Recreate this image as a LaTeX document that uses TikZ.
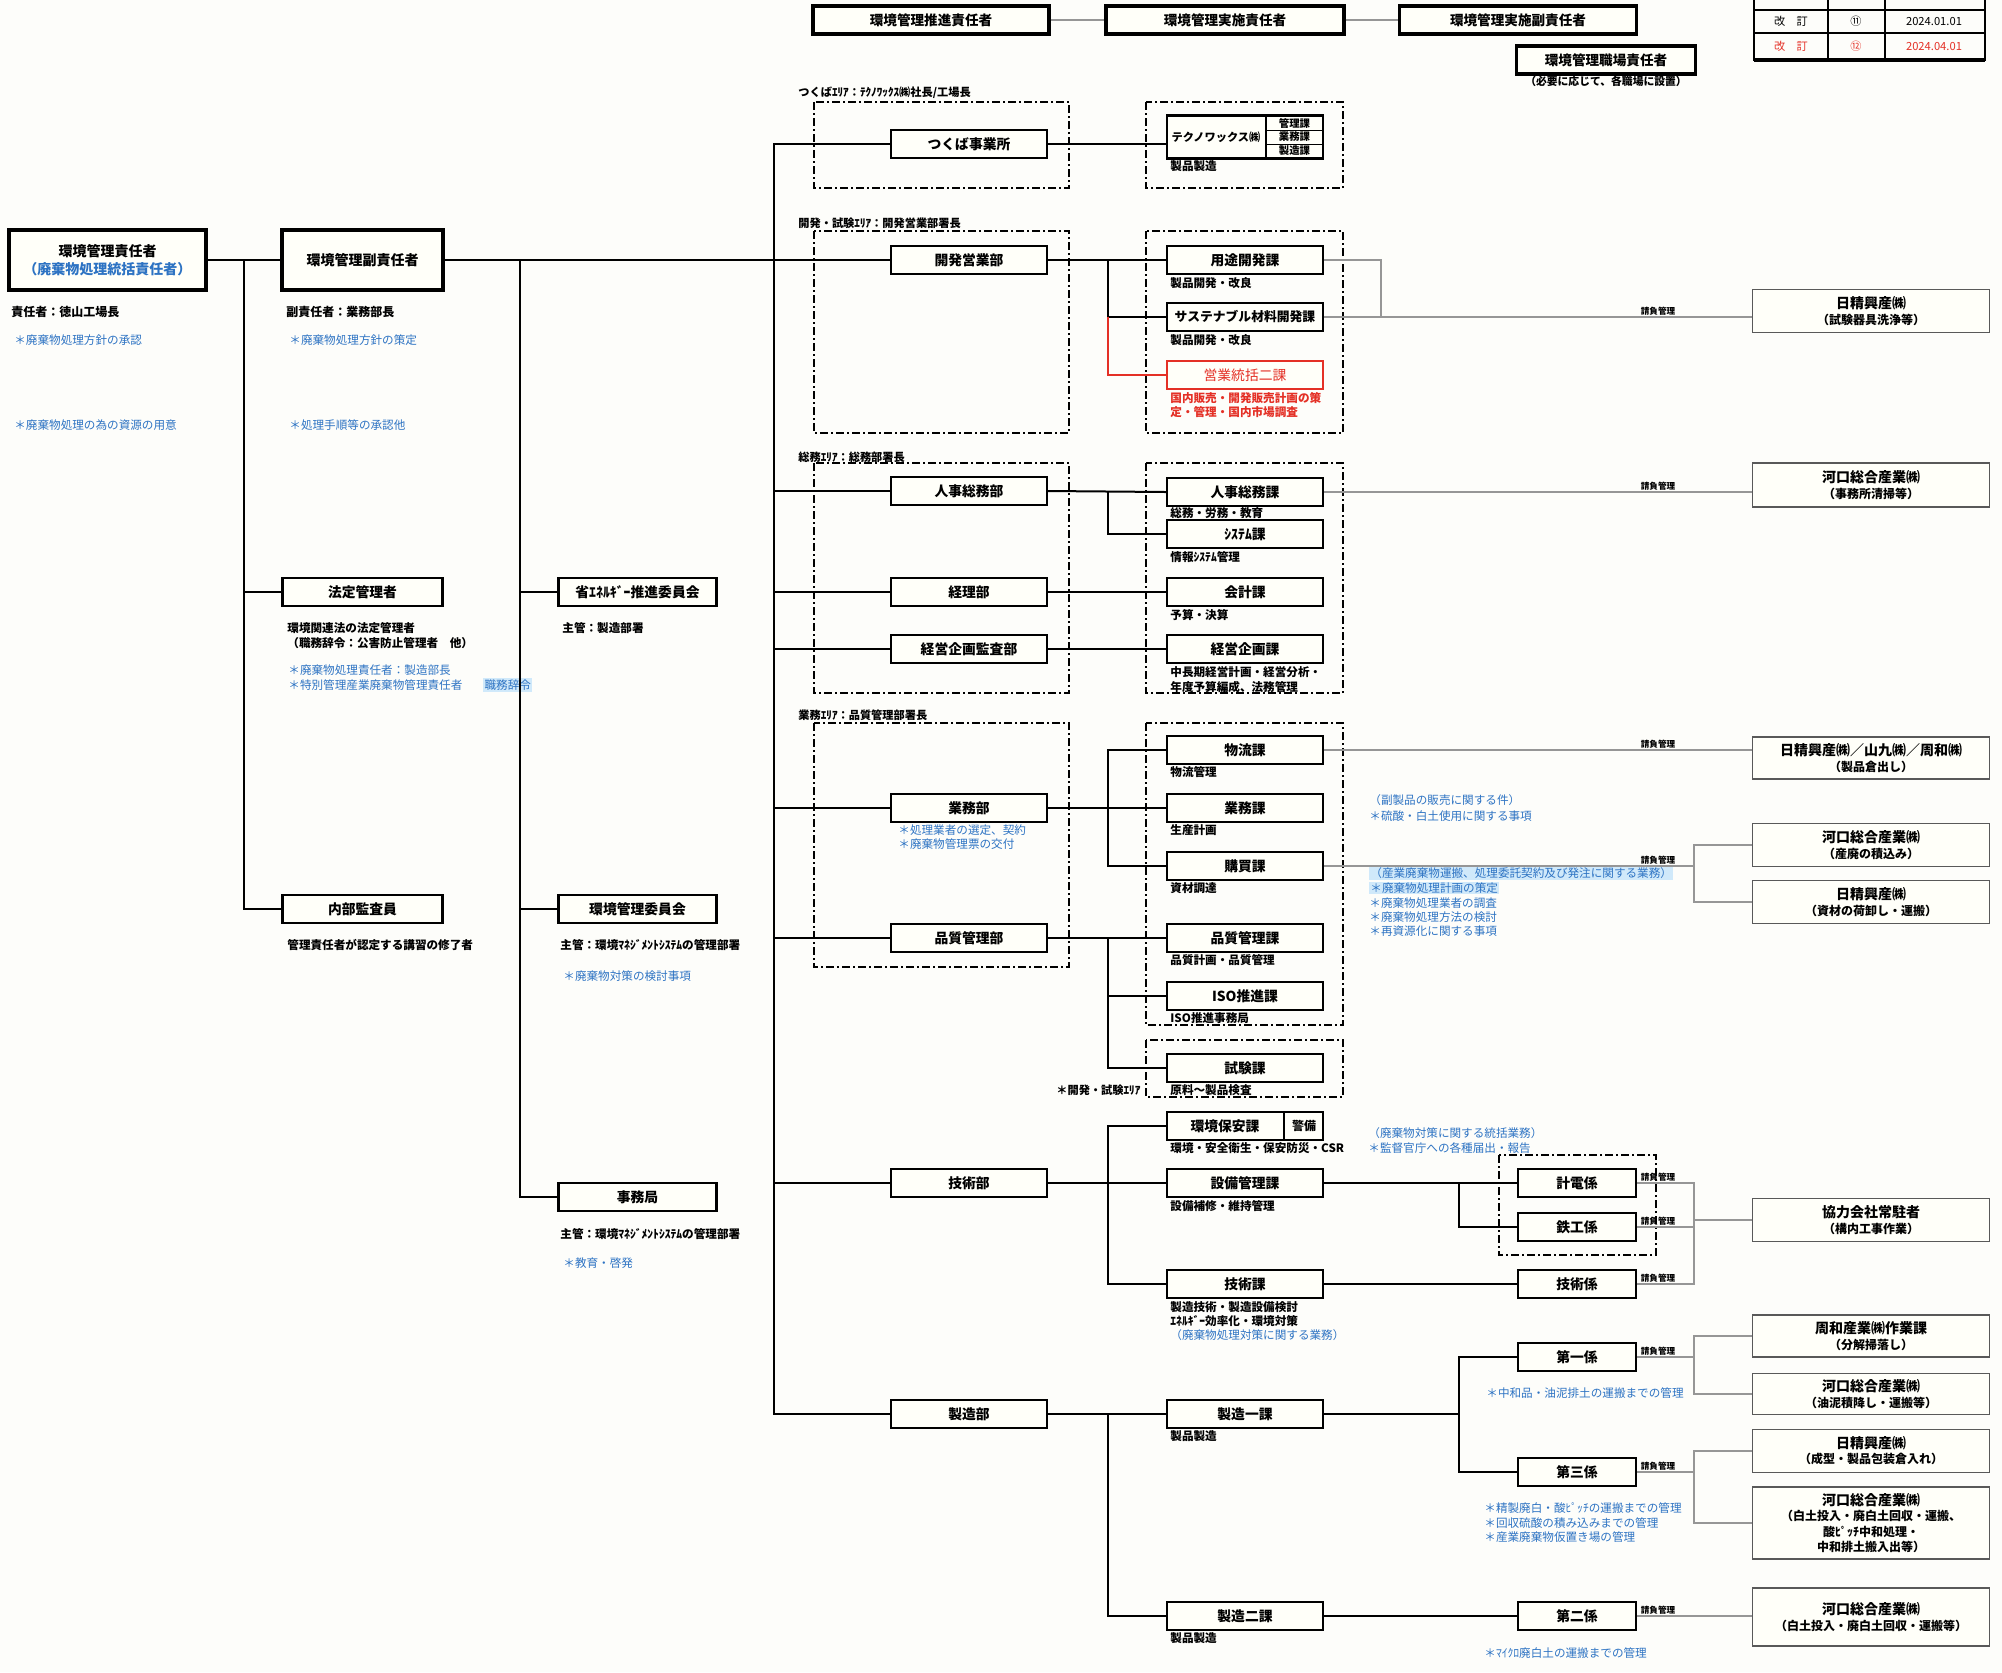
\documentclass[tikz,border=0pt]{standalone}
\usepackage{fontspec}
\setmainfont{Noto Sans CJK JP}
\definecolor{paper}{RGB}{253,253,250}
\definecolor{boxfill}{RGB}{255,255,249}
\definecolor{inkblue}{RGB}{45,115,195}
\definecolor{inkred}{RGB}{228,48,38}
\definecolor{hilite}{RGB}{208,233,250}
\definecolor{greyline}{RGB}{150,150,150}
\newcommand{\firm}[1]{{\fontsize{7}{8.5}\selectfont #1}}
\tikzset{
  box/.style={draw, line width=1.1pt, fill=boxfill, inner sep=1pt, minimum width=78pt,
    minimum height=14pt, font=\bfseries\fontsize{6.9}{8}\selectfont},
  kakbox/.style={box, minimum width=59pt},
  headbox/.style={box, line width=1.7pt, minimum height=14pt, font=\bfseries\fontsize{6.8}{8}\selectfont},
  bigbox/.style={box, line width=2.3pt, minimum height=30pt, align=center, font=\bfseries\fontsize{7}{9}\selectfont},
  extbox/.style={draw=black!65, line width=.7pt, fill=boxfill, minimum width=118.5pt, inner sep=1pt,
    align=center, font=\bfseries\fontsize{6}{7.6}\selectfont},
  boxtxt/.style={inner sep=0pt, font=\bfseries\fontsize{6.9}{8}\selectfont},
  cell/.style={inner sep=0pt, font=\bfseries\fontsize{5.2}{6}\selectfont},
  sub/.style={anchor=west, inner sep=0pt, font=\bfseries\fontsize{5.8}{6.6}\selectfont},
  note/.style={anchor=west, inner sep=0pt, text=inkblue, font=\fontsize{5.8}{6.6}\selectfont},
  area/.style={anchor=west, inner sep=0pt, font=\bfseries\fontsize{5.6}{6.4}\selectfont},
  uke/.style={anchor=south, inner sep=.6pt, font=\bfseries\fontsize{4.3}{5}\selectfont},
  rev/.style={inner sep=0pt, font=\fontsize{5.6}{6.4}\selectfont},
  link/.style={line width=1pt},
  glink/.style={line width=.6pt, draw=greyline},
  zone/.style={line width=.9pt, dash pattern=on 4pt off 1.5pt on 1pt off 1.5pt}
}
\begin{document}
\begin{tikzpicture}[x=.5pt,y=-.5pt]
\path[use as bounding box,fill=paper] (0,0) rectangle (2002,1672);

% header row
\node[headbox, minimum width=118pt] (hPromo) at (931,20) {環境管理推進責任者};
\node[headbox, minimum width=119pt] (hExec) at (1225,20) {環境管理実施責任者};
\node[headbox, minimum width=118.5pt] (hVice) at (1518,20) {環境管理実施副責任者};
\node[headbox, minimum width=89.5pt] (hSite) at (1606,60) {環境管理職場責任者};
\node[sub, anchor=center, font=\bfseries\fontsize{5.4}{6}\selectfont] (hSiteN) at (1606,81) {（必要に応じて、各職場に設置）};
\draw[glink] (hPromo) -- (hExec);
\draw[glink] (hExec) -- (hVice);

% revision table
\draw[line width=.7pt] (1754,-2) rectangle (1985,60);
\draw[line width=.7pt] (1754,10) -- (1985,10) (1754,33) -- (1985,33) (1828,-2) -- (1828,60) (1885,-2) -- (1885,60);
\draw[line width=1.6pt] (1754,60) -- (1985,60);
\node[rev] (revA1) at (1791,21.5) {改\quad 訂};
\node[rev] (revA2) at (1856,21.5) {⑪};
\node[rev] (revA3) at (1934,21.5) {2024.01.01};
\node[rev, text=inkred] (revB1) at (1791,46.5) {改\quad 訂};
\node[rev, text=inkred] (revB2) at (1856,46.5) {⑫};
\node[rev, text=inkred] (revB3) at (1934,46.5) {2024.04.01};

% left column
\node[bigbox, minimum width=98.5pt] (top1) at (107.5,260) {環境管理責任者\\\textcolor{inkblue}{（廃棄物処理統括責任者）}};
\node[bigbox, minimum width=80.5pt] (top2) at (362.5,260) {環境管理副責任者};
\node[sub, font=\bfseries\fontsize{6}{7}\selectfont] (top1a) at (11,312) {責任者：徳山工場長};
\node[note] (top1b) at (14,340) {＊廃棄物処理方針の承認};
\node[note] (top1c) at (14,425) {＊廃棄物処理の為の資源の用意};
\node[sub, font=\bfseries\fontsize{6}{7}\selectfont] (top2a) at (286,312) {副責任者：業務部長};
\node[note] (top2b) at (289,340) {＊廃棄物処理方針の策定};
\node[note] (top2c) at (289,425) {＊処理手順等の承認他};

\node[box, minimum width=80pt] (legal) at (362.5,592) {法定管理者};
\node[sub] (legalA) at (287,628) {環境関連法の法定管理者};
\node[sub] (legalB) at (287,643) {（職務辞令：公害防止管理者　他）};
\node[note] (legalC) at (288,670) {＊廃棄物処理責任者：製造部長};
\node[note] (legalD) at (288,685) {＊特別管理産業廃棄物管理責任者};
\node[note, fill=hilite, inner sep=.6pt] (legalE) at (483,685) {職務辞令};
\node[box, minimum width=80pt] (audit) at (362.5,909) {内部監査員};
\node[sub] (auditA) at (287,945) {管理責任者が認定する講習の修了者};

\node[box, minimum width=79pt] (energy) at (637.5,592) {省ｴﾈﾙｷﾞｰ推進委員会};
\node[sub] (energyA) at (562,628) {主管：製造部署};
\node[box, minimum width=79pt] (envc) at (637.5,909) {環境管理委員会};
\node[sub] (envcA) at (560,945) {主管：環境ﾏﾈｼﾞﾒﾝﾄｼｽﾃﾑの管理部署};
\node[note] (envcB) at (563,976) {＊廃棄物対策の検討事項};
\node[box, minimum width=79pt] (office) at (637.5,1197) {事務局};
\node[sub] (officeA) at (560,1234) {主管：環境ﾏﾈｼﾞﾒﾝﾄｼｽﾃﾑの管理部署};
\node[note] (officeB) at (563,1263) {＊教育・啓発};

% areas
\draw[zone] (814,102) rectangle (1069,188);
\draw[zone] (1146,102) rectangle (1343,188);
\draw[zone] (814,231) rectangle (1069,433);
\draw[zone] (1146,231) rectangle (1343,433);
\draw[zone] (814,463) rectangle (1069,693);
\draw[zone] (1146,463) rectangle (1343,693);
\draw[zone] (814,723) rectangle (1069,967);
\draw[zone] (1146,723) rectangle (1343,1025);
\draw[zone] (1146,1040) rectangle (1343,1097);
\draw[zone] (1499,1155) rectangle (1656,1255);
\node[area] (areaTsukuba) at (798,93) {つくばｴﾘｱ：ﾃｸﾉﾜｯｸｽ㈱社長/工場長};
\node[area] (areaDev) at (798,223) {開発・試験ｴﾘｱ：開発営業部署長};
\node[area] (areaAdmin) at (798,457) {総務ｴﾘｱ：総務部署長};
\node[area] (areaOps) at (798,715) {業務ｴﾘｱ：品質管理部署長};
\node[area] (areaTest) at (1056,1090) {＊開発・試験ｴﾘｱ};

% departments
\node[box] (tsukuba) at (969,144) {つくば事業所};
\node[box] (kaihatsu) at (969,260) {開発営業部};
\node[box] (jinji) at (969,491) {人事総務部};
\node[box] (keiri) at (969,592) {経理部};
\node[box] (keiei) at (969,649) {経営企画監査部};
\node[box] (gyomu) at (969,808) {業務部};
\node[note] (gyomuA) at (898,830) {＊処理業者の選定、契約};
\node[note] (gyomuB) at (898,844) {＊廃棄物管理票の交付};
\node[box] (hinshitsu) at (969,938) {品質管理部};
\node[box] (gijutsu) at (969,1183) {技術部};
\node[box] (seizo) at (969,1414) {製造部};

% sections
\node[box, minimum height=21.5pt] (tecno) at (1245,137) {};
\draw[line width=1.1pt] (1266,116) -- (1266,158);
\draw[line width=.5pt] (1266,130) -- (1323,130) (1266,144) -- (1323,144);
\node[boxtxt, font=\bfseries\fontsize{5.6}{6.4}\selectfont] (tecnoN) at (1216,137) {テクノワックス㈱};
\node[cell] (tecnoA) at (1294.5,123) {管理課};
\node[cell] (tecnoB) at (1294.5,137) {業務課};
\node[cell] (tecnoC) at (1294.5,151) {製造課};
\node[sub] (tecnoS) at (1170,166) {製品製造};
\node[box] (yoto) at (1245,260) {用途開発課};
\node[sub] (yotoS) at (1170,283) {製品開発・改良};
\node[box, font=\bfseries\fontsize{6.4}{8}\selectfont] (sust) at (1245,317) {サステナブル材料開発課};
\node[sub] (sustS) at (1170,340) {製品開発・改良};
\node[box, draw=inkred, text=inkred, font=\fontsize{6.9}{8}\selectfont] (eigyo) at (1245,375) {営業統括二課};
\node[sub, text=inkred] (eigyoS) at (1170,398) {国内販売・開発販売計画の策};
\node[sub, text=inkred] (eigyoT) at (1170,412) {定・管理・国内市場調査};
\node[box] (jinjiK) at (1245,492) {人事総務課};
\node[sub] (jinjiS) at (1170,513) {総務・労務・教育};
\node[box] (sys) at (1245,534) {ｼｽﾃﾑ課};
\node[sub] (sysS) at (1170,557) {情報ｼｽﾃﾑ管理};
\node[box] (kaikei) at (1245,592) {会計課};
\node[sub] (kaikeiS) at (1170,615) {予算・決算};
\node[box] (keieiK) at (1245,649) {経営企画課};
\node[sub] (keieiS) at (1170,672) {中長期経営計画・経営分析・};
\node[sub] (keieiT) at (1170,687) {年度予算編成、法務管理};
\node[box] (butsuryu) at (1245,750) {物流課};
\node[sub] (butsuryuS) at (1170,772) {物流管理};
\node[box] (gyomuK) at (1245,808) {業務課};
\node[sub] (gyomuS) at (1170,830) {生産計画};
\node[box] (kobai) at (1245,866) {購買課};
\node[sub] (kobaiS) at (1170,888) {資材調達};
\node[box] (hinK) at (1245,938) {品質管理課};
\node[sub] (hinS) at (1170,960) {品質計画・品質管理};
\node[box] (iso) at (1245,996) {ISO推進課};
\node[sub] (isoS) at (1170,1018) {ISO推進事務局};
\node[box] (shiken) at (1245,1068) {試験課};
\node[sub] (shikenS) at (1170,1090) {原料～製品検査};
\node[box] (hoan) at (1245,1126) {};
\draw[line width=1.1pt] (1284,1112) -- (1284,1140);
\node[boxtxt] (hoanN) at (1225,1126) {環境保安課};
\node[boxtxt, font=\bfseries\fontsize{6}{7}\selectfont] (hoanG) at (1304,1126) {警備};
\node[sub] (hoanS) at (1170,1148) {環境・安全衛生・保安防災・CSR};
\node[box] (setsubi) at (1245,1183) {設備管理課};
\node[sub] (setsubiS) at (1170,1206) {設備補修・維持管理};
\node[box] (gijutsuK) at (1245,1284) {技術課};
\node[sub] (gijutsuS) at (1170,1307) {製造技術・製造設備検討};
\node[sub] (gijutsuT) at (1170,1321) {ｴﾈﾙｷﾞｰ効率化・環境対策};
\node[note] (gijutsuU) at (1170,1335) {（廃棄物処理対策に関する業務）};
\node[box] (seizo1) at (1245,1414) {製造一課};
\node[sub] (seizo1S) at (1170,1436) {製品製造};
\node[box] (seizo2) at (1245,1616) {製造二課};
\node[sub] (seizo2S) at (1170,1638) {製品製造};

% notes beside sections
\node[note] (gyomuN1) at (1369,800) {（副製品の販売に関する件）};
\node[note] (gyomuN2) at (1369,816) {＊硫酸・白土使用に関する事項};
\node[note, fill=hilite, inner sep=.5pt] (kobaiN1) at (1369,873) {（産業廃棄物運搬、処理委託契約及び発注に関する業務）};
\node[note, fill=hilite, inner sep=.5pt] (kobaiN2) at (1369,888) {＊廃棄物処理計画の策定};
\node[note] (kobaiN3) at (1369,903) {＊廃棄物処理業者の調査};
\node[note] (kobaiN4) at (1369,917) {＊廃棄物処理方法の検討};
\node[note] (kobaiN5) at (1369,931) {＊再資源化に関する事項};
\node[note] (hoanN1) at (1368,1133) {（廃棄物対策に関する統括業務）};
\node[note] (hoanN2) at (1368,1148) {＊監督官庁への各種届出・報告};

% kakari
\node[kakbox] (keiden) at (1577,1183) {計電係};
\node[kakbox] (tekko) at (1577,1227) {鉄工係};
\node[kakbox] (gijutsuG) at (1577,1284) {技術係};
\node[kakbox] (dai1) at (1577,1357) {第一係};
\node[kakbox] (dai3) at (1577,1472) {第三係};
\node[kakbox] (dai2) at (1577,1616) {第二係};
\node[note] (dai1N) at (1486,1393) {＊中和品・油泥排土の運搬までの管理};
\node[note] (dai3N1) at (1484,1508) {＊精製廃白・酸ﾋﾟｯﾁの運搬までの管理};
\node[note] (dai3N2) at (1484,1523) {＊回収硫酸の積み込みまでの管理};
\node[note] (dai3N3) at (1484,1537) {＊産業廃棄物仮置き場の管理};
\node[note] (dai2N) at (1484,1653) {＊ﾏｲｸﾛ廃白土の運搬までの管理};

% contractors
\node[extbox, minimum height=21.5pt] (ext1) at (1871,311) {\firm{日精興産㈱}\\（試験器具洗浄等）};
\node[extbox, minimum height=22pt] (ext2) at (1871,485) {\firm{河口総合産業㈱}\\（事務所清掃等）};
\node[extbox, minimum height=21pt] (ext3) at (1871,758) {\firm{日精興産㈱／山九㈱／周和㈱}\\（製品倉出し）};
\node[extbox, minimum height=21.5pt] (ext4) at (1871,845) {\firm{河口総合産業㈱}\\（産廃の積込み）};
\node[extbox, minimum height=21.5pt] (ext5) at (1871,902) {\firm{日精興産㈱}\\（資材の荷卸し・運搬）};
\node[extbox, minimum height=21.5pt] (ext6) at (1871,1220) {\firm{協力会社常駐者}\\（構内工事作業）};
\node[extbox, minimum height=21pt] (ext7) at (1871,1336) {\firm{周和産業㈱作業課}\\（分解掃落し）};
\node[extbox, minimum height=20.5pt] (ext8) at (1871,1394) {\firm{河口総合産業㈱}\\（油泥積降し・運搬等）};
\node[extbox, minimum height=21.5pt] (ext9) at (1871,1451) {\firm{日精興産㈱}\\（成型・製品包装倉入れ）};
\node[extbox, minimum height=36pt] (ext10) at (1871,1523) {\firm{河口総合産業㈱}\\（白土投入・廃白土回収・運搬、\\酸ﾋﾟｯﾁ中和処理・\\中和排土搬入出等）};
\node[extbox, minimum height=29pt] (ext11) at (1871,1617) {\firm{河口総合産業㈱}\\（白土投入・廃白土回収・運搬等）};

% connectors
\coordinate (colL) at (244,0);
\coordinate (colM) at (520,0);
\coordinate (trunk) at (774,0);
\coordinate (col) at (1108,0);
\coordinate (col2) at (1459,0);
\coordinate (gA) at (1381,0);
\coordinate (gB) at (1694,0);

\draw[link] (top1.east) -- (top2.west);
\draw[link] (top1.east -| colL) |- (audit.west);
\draw[link] (legal.west) -- (legal.west -| colL);
\draw[link] (top2.east) -- (kaihatsu.west);
\draw[link] (top2.east -| colM) |- (office.west);
\draw[link] (energy.west) -- (energy.west -| colM);
\draw[link] (envc.west) -- (envc.west -| colM);

\draw[link] (tsukuba.west) -- (tsukuba.west -| trunk) -- (seizo.west -| trunk) -- (seizo.west);
\draw[link] (jinji.west) -- (jinji.west -| trunk);
\draw[link] (keiri.west) -- (keiri.west -| trunk);
\draw[link] (keiei.west) -- (keiei.west -| trunk);
\draw[link] (gyomu.west) -- (gyomu.west -| trunk);
\draw[link] (hinshitsu.west) -- (hinshitsu.west -| trunk);
\draw[link] (gijutsu.west) -- (gijutsu.west -| trunk);

\draw[link] (tsukuba.east) -- (tsukuba.east -| tecno.west);
\draw[link] (kaihatsu.east) -- (yoto.west);
\draw[link] (yoto.west -| col) |- (sust.west);
\draw[link, inkred] (sust.west -| col) |- (eigyo.west);
\draw[link] (jinji.east) -- (jinjiK.west);
\draw[link] (jinjiK.west -| col) |- (sys.west);
\draw[link] (keiri.east) -- (kaikei.west);
\draw[link] (keiei.east) -- (keieiK.west);
\draw[link] (gyomu.east) -- (gyomuK.west);
\draw[link] (butsuryu.west) -- (butsuryu.west -| col) |- (kobai.west);
\draw[link] (hinshitsu.east) -- (hinK.west);
\draw[link] (hinK.west -| col) |- (shiken.west);
\draw[link] (iso.west) -- (iso.west -| col);
\draw[link] (gijutsu.east) -- (setsubi.west);
\draw[link] (hoan.west) -- (hoan.west -| col) |- (gijutsuK.west);
\draw[link] (seizo.east) -- (seizo1.west);
\draw[link] (seizo1.west -| col) |- (seizo2.west);

\draw[link] (setsubi.east) -- (keiden.west);
\draw[link] (keiden.west -| col2) |- (tekko.west);
\draw[link] (gijutsuK.east) -- (gijutsuG.west);
\draw[link] (seizo1.east) -- (seizo1.east -| col2);
\draw[link] (dai1.west) -- (dai1.west -| col2) |- (dai3.west);
\draw[link] (seizo2.east) -- (dai2.west);

% contract lines
\draw[glink] (sust.east) -- (sust.east -| ext1.west);
\draw[glink] (yoto.east) -- (yoto.east -| gA) -- (sust.east -| gA);
\draw[glink] (jinjiK.east) -- (jinjiK.east -| ext2.west);
\draw[glink] (butsuryu.east) -- (butsuryu.east -| ext3.west);
\draw[glink] (kobai.east) -- (kobai.east -| gB);
\draw[glink] (ext4.west) -- (ext4.west -| gB) -- (ext5.west -| gB) -- (ext5.west);
\draw[glink] (keiden.east) -- (keiden.east -| gB) -- (gijutsuG.east -| gB) -- (gijutsuG.east);
\draw[glink] (tekko.east) -- (tekko.east -| gB);
\draw[glink] (ext6.west -| gB) -- (ext6.west);
\draw[glink] (dai1.east) -- (dai1.east -| gB);
\draw[glink] (ext7.west) -- (ext7.west -| gB) -- (ext8.west -| gB) -- (ext8.west);
\draw[glink] (dai3.east) -- (dai3.east -| gB);
\draw[glink] (ext9.west) -- (ext9.west -| gB) -- (ext10.west -| gB) -- (ext10.west);
\draw[glink] (dai2.east) -- (dai2.east -| ext11.west);

\node[uke] (uke1) at (1658,317) {請負管理};
\node[uke] (uke2) at (1658,492) {請負管理};
\node[uke] (uke3) at (1658,750) {請負管理};
\node[uke] (uke4) at (1658,866) {請負管理};
\node[uke] (uke5) at (1658,1183) {請負管理};
\node[uke] (uke6) at (1658,1227) {請負管理};
\node[uke] (uke7) at (1658,1284) {請負管理};
\node[uke] (uke8) at (1658,1357) {請負管理};
\node[uke] (uke9) at (1658,1472) {請負管理};
\node[uke] (uke10) at (1658,1616) {請負管理};
\end{tikzpicture}
\end{document}
